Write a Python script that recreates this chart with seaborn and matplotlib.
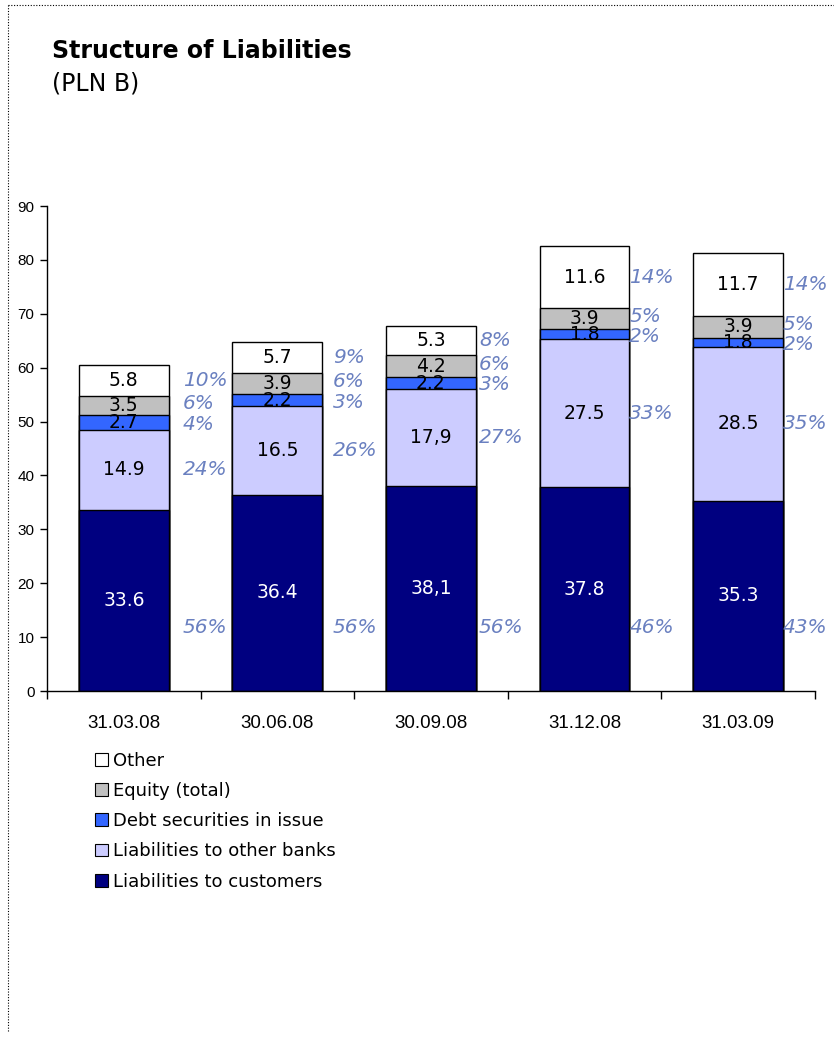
import numpy as np
import pandas as pd
import matplotlib
matplotlib.use('Agg')
import matplotlib.pyplot as plt
from matplotlib.patches import Patch
from matplotlib.lines import Line2D
import seaborn as sns

# data (PLN B)
dates = ['31.03.08', '30.06.08', '30.09.08', '31.12.08', '31.03.09']
customers = [33.6, 36.4, 38.1, 37.8, 35.3]
other_banks = [14.9, 16.5, 17.9, 27.5, 28.5]
debt = [2.7, 2.2, 2.2, 1.8, 1.8]
equity = [3.5, 3.9, 4.2, 3.9, 3.9]
other = [5.8, 5.7, 5.3, 11.6, 11.7]

pct_customers = [56, 56, 56, 46, 43]
pct_other_banks = [24, 26, 27, 33, 35]
pct_debt = [4, 3, 3, 2, 2]
pct_equity = [6, 6, 6, 5, 5]
pct_other = [10, 9, 8, 14, 14]

series_names = ['Liabilities to customers', 'Liabilities to other banks',
                'Debt securities in issue', 'Equity (total)', 'Other']
series_vals = [customers, other_banks, debt, equity, other]
series_pcts = [pct_customers, pct_other_banks, pct_debt, pct_equity, pct_other]
colors = ['#000080', '#CCCCFF', '#3366FF', '#C0C0C0', '#FFFFFF']
text_colors = ['white', 'black', 'black', 'black', 'black']
# the source writes two labels with a decimal comma
label_override = {(1, 2): '17,9', (0, 2): '38,1'}

pct_color = '#6A80C0'
bar_w = 0.585

sns.set_style('white')
plt.rcParams['font.family'] = ['DejaVu Sans']
plt.rcParams['text.color'] = 'black'
plt.rcParams['xtick.color'] = 'black'
plt.rcParams['ytick.color'] = 'black'

fig = plt.figure(figsize=(8.34, 10.41), dpi=100)
ax = fig.add_axes([0.0564, 0.3362, 0.9206, 0.4659])

cum = np.cumsum(np.array(series_vals), axis=0)

# stacked bars: draw the cumulative totals from the top layer down
for i in range(len(series_names) - 1, -1, -1):
    df = pd.DataFrame({'date': dates, 'value': cum[i]})
    sns.barplot(data=df, x='date', y='value', color=colors[i], edgecolor='black',
                linewidth=1.0, width=bar_w, saturation=1, ax=ax, zorder=2)

# value labels inside the segments
for i, vals in enumerate(series_vals):
    for j, v in enumerate(vals):
        mid = cum[i][j] - v / 2
        txt = label_override.get((i, j), f'{v:.1f}')
        ax.text(j, mid, txt, ha='center', va='center', fontsize=13.5,
                color=text_colors[i], zorder=5)

# share labels on the right of each bar, spread a bit where they crowd
pct_shift = [0.09, 0.07, 0.02, 0.0, 0.0]
min_gap = 3.8
for j in range(len(dates)):
    ys = [11.7] + [cum[i][j] - series_vals[i][j] / 2 for i in range(1, 5)]
    for k in range(1, 5):
        if ys[k] - ys[k - 1] < min_gap and k >= 2:
            c = (ys[k] + ys[k - 1]) / 2
            ys[k - 1] = c - min_gap / 2
            ys[k] = c + min_gap / 2
    for i in range(5):
        ax.text(j + bar_w / 2 + pct_shift[j], ys[i], f'{series_pcts[i][j]}%',
                ha='left', va='center', fontsize=14.5, style='italic',
                color=pct_color, zorder=5)

ax.set_ylim(0, 90)
ax.set_xlim(-0.5, len(dates) - 0.5)
ax.set_yticks(range(0, 91, 10))
ax.set_xlabel('')
ax.set_ylabel('')
for s in ['top', 'right']:
    ax.spines[s].set_visible(False)
for s in ['left', 'bottom']:
    ax.spines[s].set_color('black')
    ax.spines[s].set_linewidth(1.0)

ax.tick_params(axis='y', which='major', left=True, length=5, width=1,
               color='black', labelsize=11, pad=4)
ax.tick_params(axis='x', which='major', bottom=False, labelsize=13.5, pad=14)
ax.set_xticks(np.arange(-0.5, len(dates), 1.0), minor=True)
ax.tick_params(axis='x', which='minor', bottom=True, length=6, width=1,
               color='black', direction='out')
for lab in ax.get_yticklabels() + ax.get_xticklabels():
    lab.set_fontfamily('Liberation Sans')

# title
fig.text(0.0625, 0.944, 'Structure of Liabilities', fontsize=17,
         fontweight='bold', ha='left', va='baseline')
fig.text(0.0625, 0.913, '(PLN B)', fontsize=17, ha='left', va='baseline')

# legend (top item is "Other")
handles = [Patch(facecolor=colors[i], edgecolor='black', linewidth=0.8,
                 label=series_names[i]) for i in range(len(series_names) - 1, -1, -1)]
fig.legend(handles=handles, loc='upper left', bbox_to_anchor=(0.105, 0.285),
           frameon=False, fontsize=13, handlelength=0.72, handleheight=0.72,
           handletextpad=0.3, labelspacing=0.68, borderaxespad=0)

# dotted frame along the top and left edges
fig.add_artist(Line2D([0.01, 1.0], [0.995, 0.995], transform=fig.transFigure,
                      color='black', linestyle=(0, (1, 1.5)), linewidth=0.8))
fig.add_artist(Line2D([0.01, 0.01], [0.01, 0.995], transform=fig.transFigure,
                      color='black', linestyle=(0, (1, 1.5)), linewidth=0.8))

fig.savefig('out.png', dpi=100)
